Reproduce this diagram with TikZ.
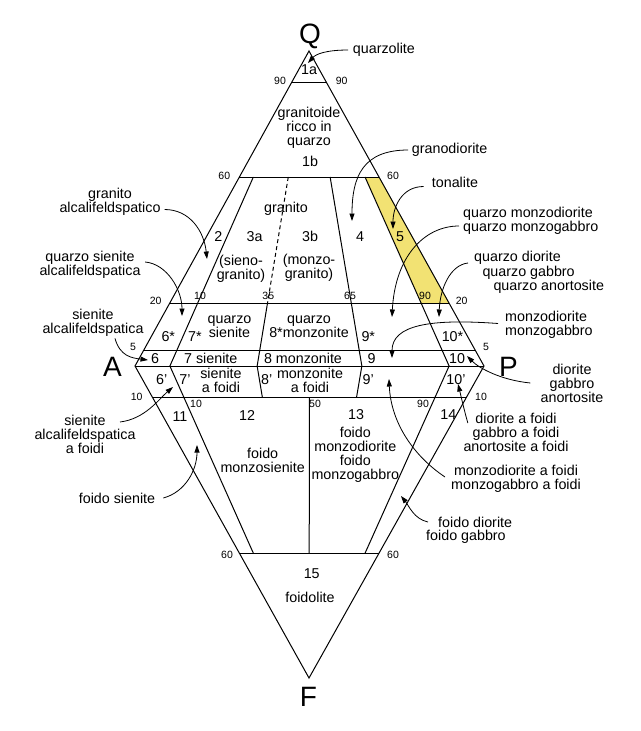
\documentclass[tikz,border=0pt]{standalone}
\usepackage{fontspec}
\setmainfont{Liberation Sans}
\usetikzlibrary{calc,arrows.meta}
\definecolor{tonalyellow}{RGB}{242,226,115}
\begin{document}
\begin{tikzpicture}[x=1pt,y=-1pt,
  edge/.style={line width=1pt},
  num/.style={font=\fontsize{10.5}{11}\selectfont, inner sep=0pt},
  lab/.style={font=\fontsize{14.3}{14.1}\selectfont, inner sep=0pt, align=center},
  big/.style={font=\fontsize{28}{28}\selectfont, inner sep=0pt},
  note/.style={font=\fontsize{14.3}{14.1}\selectfont, inner sep=0pt, align=center},
  arr/.style={line width=0.8pt, -{Triangle[length=7.5pt,width=5pt]}}]
\useasboundingbox (0,0) rectangle (640,731);

% vertices
\coordinate (A) at (135,366);
\coordinate (P) at (484,366);
\coordinate (Q) at (309,51);
\coordinate (F) at (309,678);

% construction points
\path (A) -- (P) coordinate[pos=0.1] (b10) coordinate[pos=0.35] (b35) coordinate[pos=0.5] (b50) coordinate[pos=0.65] (b65) coordinate[pos=0.9] (b90);
\path (A) -- (Q) coordinate[pos=0.05] (la5) coordinate[pos=0.2] (la20) coordinate[pos=0.6] (la60) coordinate[pos=0.9] (la90);
\path (P) -- (Q) coordinate[pos=0.05] (lp5) coordinate[pos=0.2] (lp20) coordinate[pos=0.6] (lp60) coordinate[pos=0.9] (lp90);
\path (A) -- (F) coordinate[pos=0.1] (fa10) coordinate[pos=0.6] (fa60);
\path (P) -- (F) coordinate[pos=0.1] (fp10) coordinate[pos=0.6] (fp60);
\path (b10) -- (Q) coordinate[pos=0.6] (q10);
\path (b35) -- (Q) coordinate[pos=0.2] (q35a) coordinate[pos=0.6] (q35b);
\path (b65) -- (Q) coordinate[pos=0.6] (q65);
\path (b90) -- (Q) coordinate[pos=0.2] (q90a) coordinate[pos=0.6] (q90b);
\path (b10) -- (F) coordinate[pos=0.6] (f10);
\path (b35) -- (F) coordinate[pos=0.1] (f35);
\path (b50) -- (F) coordinate[pos=0.1] (f50a) coordinate[pos=0.6] (f50b);
\path (b65) -- (F) coordinate[pos=0.1] (f65);
\path (b90) -- (F) coordinate[pos=0.6] (f90);

% tonalite field
\fill[tonalyellow] (q90b) -- (lp60) -- (lp20) -- (q90a) -- cycle;

% outline and field boundaries
\draw[edge] (A) -- (Q) -- (P) -- (F) -- cycle;
\draw[edge] (A) -- (P);
\draw[edge] (la90) -- (lp90) (la60) -- (lp60) (la20) -- (lp20) (la5) -- (lp5)
            (fa10) -- (fp10) (fa60) -- (fp60);
\draw[edge] (q10) -- (b10) (q65) -- (b65) (q90b) -- (b90) (q35a) -- (b35);
\draw[edge, dash pattern=on 4pt off 3pt] (q35b) -- (q35a);
\draw[edge] (b10) -- (f10) (b90) -- (f90) (b35) -- (f35) (b65) -- (f65) (f50a) -- (f50b);

% vertex letters
\node[big] (lQ) at (310,36.5) {Q};
\node[big] (lA) at (112.5,367) {A};
\node[big] (lP) at (508.5,367) {P};
\node[big] (lF) at (308.5,696.5) {F};

% scale numbers
\node[num] (n90l) at (280,81) {90};
\node[num] (n90r) at (341.7,81) {90};
\node[num] (n60l) at (224.3,176) {60};
\node[num] (n60r) at (393,176) {60};
\node[num] (n20l) at (155.7,301) {20};
\node[num] (n10a) at (200,295.7) {10};
\node[num] (n35) at (268.3,295.7) {35};
\node[num] (n65) at (350,296) {65};
\node[num] (n90b) at (425,296) {90};
\node[num] (n20r) at (461.7,301) {20};
\node[num] (n5l) at (133,347) {5};
\node[num] (n5r) at (486,347) {5};
\node[num] (n10l) at (136.7,396.7) {10};
\node[num] (n10b) at (196,404) {10};
\node[num] (n50) at (315,404) {50};
\node[num] (n90c) at (423,404) {90};
\node[num] (n10r) at (481,396.5) {10};
\node[num] (n60bl) at (227,555) {60};
\node[num] (n60br) at (393,555) {60};

% field labels
\node[lab] (f1a) at (309,70) {1a};
\node[lab] (f1bt) at (309,128) {granitoide\\ricco in\\quarzo};
\node[lab] (f1b) at (310,161) {1b};
\node[lab] (fgr) at (286,209) {granito};
\node[lab] (f2) at (218.3,236.7) {2};
\node[lab] (f3a) at (254.5,236.7) {3a};
\node[lab] (f3b) at (310,236.7) {3b};
\node[lab] (f4) at (360,236.7) {4};
\node[lab] (f5) at (400,236.7) {5};
\node[lab] (f3at) at (241,268.5) {(sieno-\\granito)};
\node[lab] (f3bt) at (309,267.5) {(monzo-\\granito)};
\node[lab] (f6s) at (168.3,336.7) {6*};
\node[lab] (f7s) at (195,336.7) {7*};
\node[lab] (f7st) at (229.5,326.7) {quarzo\\sienite};
\node[lab] (f8st) at (309,326.7) {quarzo\\8*monzonite};
\node[lab] (f9s) at (368.3,336.7) {9*};
\node[lab] (f10s) at (452.5,336.7) {10*};
\node[lab] (f6) at (155,358.3) {6};
\node[lab] (f7) at (210.8,358.3) {7 sienite};
\node[lab] (f8) at (303,358.3) {8 monzonite};
\node[lab] (f9) at (371.7,358.3) {9};
\node[lab] (f10) at (457,358.3) {10};
\node[lab] (f6p) at (161.7,380) {6'};
\node[lab] (f7p) at (185,380) {7'};
\node[lab] (f7pt) at (221,380) {sienite\\a foidi};
\node[lab] (f8p) at (266.7,380) {8'};
\node[lab] (f8pt) at (310,380) {monzonite\\a foidi};
\node[lab] (f9p) at (368.3,380) {9'};
\node[lab] (f10p) at (456,380) {10'};
\node[lab] (f11) at (180,416.7) {11};
\node[lab] (f12) at (247,416) {12};
\node[lab] (f13) at (356,415) {13};
\node[lab] (f14) at (448.3,415) {14};
\node[lab] (f12t) at (262.7,460) {foido\\monzosienite};
\node[lab] (f13t) at (355.3,454.7) {foido\\monzodiorite\\foido\\monzogabbro};
\node[lab] (f15) at (311.7,573.3) {15};
\node[lab] (f15t) at (310,597.3) {foidolite};

% callout labels
\node[note, anchor=west] (qz) at (352.7,50) {quarzolite};
\node[note, anchor=west] (gd) at (411.7,150) {granodiorite};
\node[note, anchor=west] (ton) at (431.7,182) {tonalite};
\node[note, anchor=west, align=left] (qm) at (463,220.5) {quarzo monzodiorite\\quarzo monzogabbro};
\node[note, anchor=west] (qd1) at (474,258) {quarzo diorite};
\node[note, anchor=west] (qd2) at (482.3,272.5) {quarzo gabbro};
\node[note, anchor=west] (qd3) at (493.3,286.5) {quarzo anortosite};
\node[note, anchor=west, align=left] (md) at (505,324.5) {monzodiorite\\monzogabbro};
\node[note] (dg) at (572,383) {diorite\\gabbro\\anortosite};
\node[note] (da) at (516,432) {diorite a foidi\\gabbro a foidi\\anortosite a foidi};
\node[note] (mf) at (516,478.5) {monzodiorite a foidi\\monzogabbro a foidi};
\node[note, anchor=west] (fd1) at (438,522) {foido diorite};
\node[note, anchor=west] (fd2) at (426,536.5) {foido gabbro};
\node[note] (fs) at (117,498) {foido sienite};
\node[note] (saf) at (85,434.5) {sienite\\alcalifeldspatica\\a foidi};
\node[note] (sa) at (93,322.5) {sienite\\alcalifeldspatica};
\node[note] (qsa) at (90,264.5) {quarzo sienite\\alcalifeldspatica};
\node[note] (ga) at (110,201.5) {granito\\alcalifeldspatico};

% arrow targets
\coordinate (tq) at (308,63);
\coordinate (t4) at (352,221);
\coordinate (t5) at (393,229);
\coordinate (tqm) at (392,317);
\coordinate (tqd) at (439,317);
\coordinate (tmd) at (392,358);
\coordinate (tdg) at (467,356);
\coordinate (tda) at (458,384);
\coordinate (tmf) at (389,379);
\coordinate (tfd) at (401,496);
\coordinate (tfs) at (197,445);
\coordinate (tsaf) at (173,387);
\coordinate (tsa) at (148,360);
\coordinate (tqs) at (182,316);
\coordinate (tga) at (207,259);

% callout arrows
\draw[arr] ($(qz.west)+(-4.5,0)$) .. controls +(-22,0) and +(8,-9) .. (tq);
\draw[arr] ($(gd.west)+(-3.5,0)$) .. controls +(-45,0) and +(0,-45) .. (t4);
\draw[arr] ($(ton.west)+(-8,4.5)$) .. controls +(-22,0) and +(0,-22) .. (t5);
\draw[arr] ($(qm.west)+(-4,5.5)$) .. controls +(-35,0) and +(3,-60) .. (tqm);
\draw[arr] ($(qd1.west)+(-6,5)$) .. controls +(-18,2) and +(1,-28) .. (tqd);
\draw[arr] ($(md.west)+(-7,-1)$) .. controls +(-68,-5) and +(0,-33) .. (tmd);
\draw[arr] ($(dg.west)+(-10,0)$) .. controls +(-30,-3) and +(12,12) .. (tdg);
\draw[arr] ($(da.west)+(4.5,-9)$) .. controls +(-4,-14) and +(3,12) .. (tda);
\draw[arr] ($(mf.west)+(-6,-1.5)$) .. controls +(-30,-20) and +(2,45) .. (tmf);
\draw[arr] ($(fd1.west)+(-10,0)$) .. controls +(-14,-3) and +(8,10) .. (tfd);
\draw[arr] ($(fs.east)+(8,0)$) .. controls +(22,-6) and +(0,25) .. (tfs);
\draw[arr] ($(saf.center)+(35,-12.5)$) .. controls +(25,-3) and +(-14,12) .. (tsaf);
\draw[arr] ($(sa.south)+(22,2)$) .. controls +(5,18) and +(-16,-2) .. (tsa);
\draw[arr] ($(qsa.east)+(4.5,-2.5)$) .. controls +(22,2) and +(0,-26) .. (tqs);
\draw[arr] ($(ga.east)+(4,8)$) .. controls +(25,0) and +(-3,-28) .. (tga);
\end{tikzpicture}
\end{document}
